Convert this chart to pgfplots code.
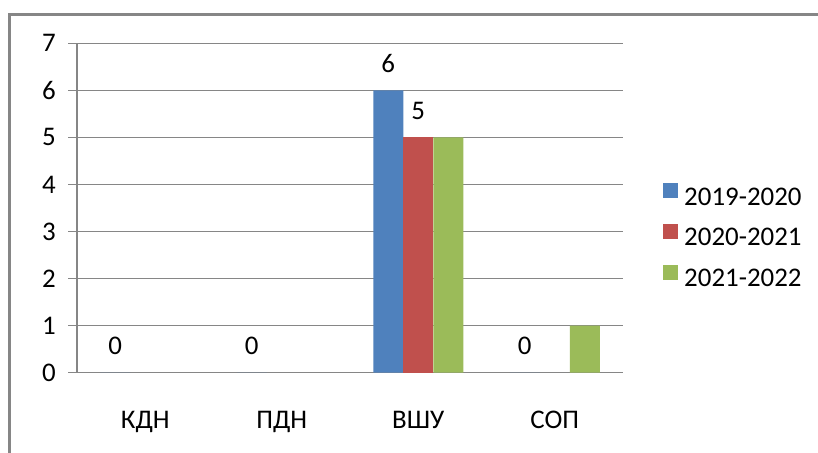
\documentclass[border=0pt]{standalone}
\usepackage{fontspec}
\setmainfont{Carlito}
\usepackage{pgfplots}
\pgfplotsset{compat=1.18}
\definecolor{cblue}{HTML}{4F81BD}
\definecolor{cred}{HTML}{C0504D}
\definecolor{cgreen}{HTML}{9BBB59}
\definecolor{cgrid}{HTML}{868686}
\newcommand{\cf}{\fontsize{27}{32}\selectfont}
\begin{document}
\cf
\begin{tikzpicture}[x=1bp,y=1bp]
\useasboundingbox (0,0) rectangle (818,453);
\draw[cgrid, line width=2.5bp] (9.5,-10)--(9.5,438.5)--(830,438.5);
\begin{axis}[
  at={(77bp,80.3bp)}, anchor=south west,
  scale only axis, width=546bp, height=329.4bp,
  xmin=-0.5, xmax=3.5, ymin=0, ymax=7,
  axis lines*=left,
  axis line style={cgrid, line width=1.5bp, -},
  ybar=0pt, bar width=30bp,
  xtick={0,1,2,3},
  xticklabels={КДН,ПДН,ВШУ,СОП},
  major x tick style={draw=none},
  extra x ticks={-0.5,0.5,1.5,2.5,3.5},
  extra x tick labels={},
  extra x tick style={tick style={cgrid, line width=1.5bp}, major tick length=9bp, tick align=outside},
  ytick={0,1,...,7},
  ymajorgrids,
  grid style={cgrid, line width=1.5bp},
  major y tick style={cgrid, line width=1.5bp},
  major tick length=9bp,
  tick align=outside,
  /pgf/number format/assume math mode=true,
  tick label style={font=\cf},
  yticklabel style={anchor=east, inner sep=0pt, xshift=-12bp},
  xticklabel style={anchor=base, inner sep=0pt, yshift=-47bp},
  legend style={at={(1.0733,0.412)}, anchor=west, draw=none, fill=none,
    font=\cf, row sep=15bp, inner sep=0pt,
    nodes={inner sep=0pt}},
  legend cell align=left,
  legend image code/.code={\fill[#1, draw=none] (0bp,0bp) rectangle (15bp,15bp);},
  nodes near coords style={font=\cf, anchor=base, inner sep=0pt, yshift=18bp},
]
\addplot[fill=cblue, draw=none, nodes near coords] coordinates {(0,0) (1,0) (2,6) (3,0)};
\addplot[fill=cred, draw=none, nodes near coords] coordinates {(2,5)};
\addplot[fill=cgreen, draw=none] coordinates {(2,5) (3,1)};
\legend{\hspace{6bp}2019-2020,\hspace{6bp}2020-2021,\hspace{6bp}2021-2022}
\end{axis}
\end{tikzpicture}
\end{document}
